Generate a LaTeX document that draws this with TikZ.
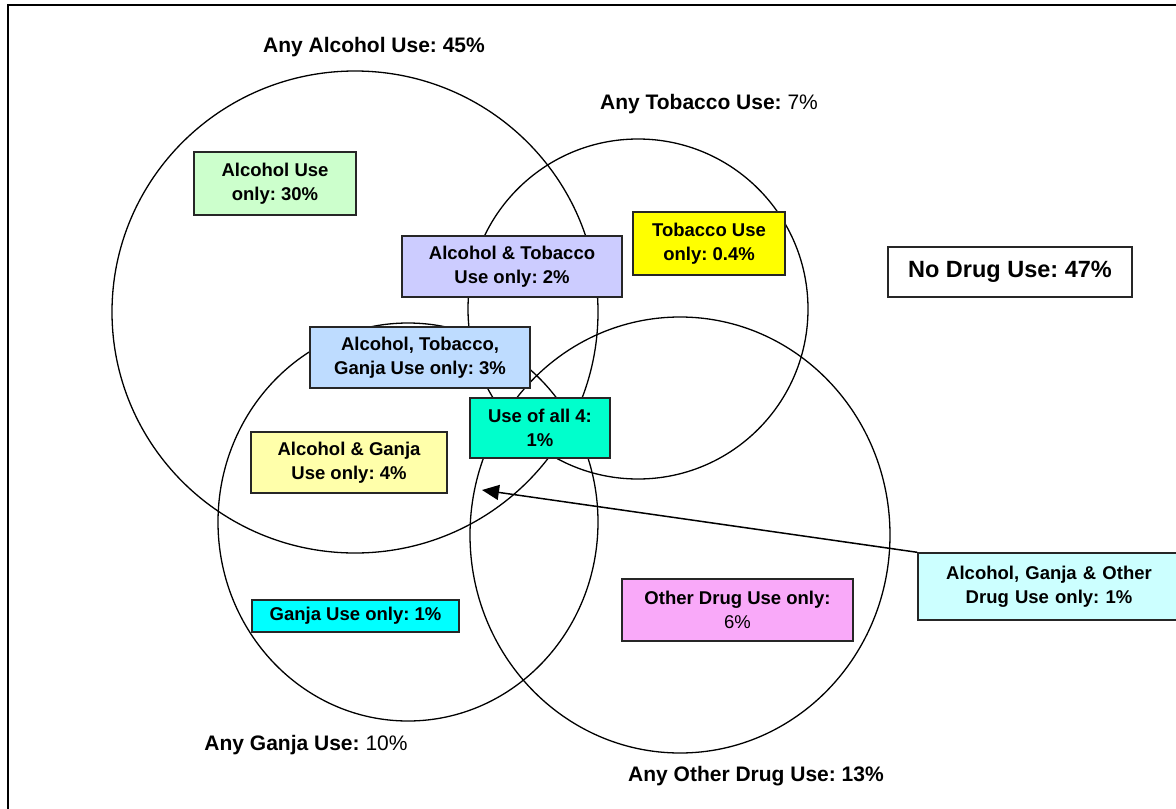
\documentclass[tikz,border=0pt]{standalone}
\usepackage{fontspec}
\setmainfont{Liberation Sans}
\usetikzlibrary{arrows.meta}
\frenchspacing
\newcommand{\boxfont}{\bfseries\fontsize{18.5}{24}\selectfont}
\newcommand{\headfont}{\bfseries\fontsize{21}{25}\selectfont}
\begin{document}
\frenchspacing
\begin{tikzpicture}[x=1pt,y=-1pt,
  region/.style={draw=black, line width=1.3pt},
  lbox/.style={draw=black!85, line width=1.4pt, align=center, inner sep=0pt, font=\boxfont},
  head/.style={inner sep=0pt, font=\headfont, anchor=center},
  pointer/.style={draw=black, line width=1.5pt, -{Triangle[length=17pt,width=15pt]}}]
\useasboundingbox (0,0) rectangle (1176,809);
\clip (0,0) rectangle (1176,809);
% frame
\draw[line width=2pt] (8,900) -- (8,5) -- (1300,5);
% sets
\draw[region] (355,312) ellipse [x radius=243, y radius=241];
\draw[region] (638,309) ellipse [x radius=170, y radius=170];
\draw[region] (408,522) ellipse [x radius=190, y radius=199];
\draw[region] (680,535) ellipse [x radius=210, y radius=218];
% headings
\node[head] (hA) at (374,47) {Any Alcohol Use: 45\%};
\node[head] (hT) at (709,104) {Any Tobacco Use: \mdseries 7\%};
\node[head] (hG) at (306,745) {Any Ganja Use: \mdseries 10\%};
\node[head] (hO) at (756,776) {Any Other Drug Use: 13\%};
% boxes
\node[lbox, fill={rgb,255:red,204;green,255;blue,204}, minimum width=162pt, minimum height=63pt] (b1) at (275,183.5) {Alcohol Use\\only: 30\%};
\node[lbox, fill={rgb,255:red,204;green,204;blue,255}, minimum width=220pt, minimum height=61pt] (b2) at (512,266.5) {Alcohol \& Tobacco\\Use only: 2\%};
\node[lbox, fill={rgb,255:red,255;green,255;blue,0}, minimum width=152pt, minimum height=63pt] (b3) at (709,243.5) {Tobacco Use\\only: 0.4\%};
\node[lbox, fill=white, minimum width=244pt, minimum height=50pt, font=\bfseries\fontsize{23.5}{27}\selectfont] (b4) at (1010,272) {No Drug Use: 47\%};
\node[lbox, fill={rgb,255:red,190;green,220;blue,255}, minimum width=220pt, minimum height=61pt] (b5) at (420,357.5) {Alcohol, Tobacco,\\Ganja Use only: 3\%};
\node[lbox, fill={rgb,255:red,0;green,255;blue,204}, minimum width=140pt, minimum height=60pt] (b6) at (540,428) {Use of all 4:\\1\%};
\node[lbox, fill={rgb,255:red,255;green,255;blue,170}, minimum width=196pt, minimum height=61pt] (b7) at (349,462.5) {Alcohol \& Ganja\\Use only: 4\%};
\node[lbox, fill={rgb,255:red,0;green,255;blue,255}, minimum width=207pt, minimum height=32pt] (b8) at (355.5,616) {Ganja Use only: 1\%};
\node[lbox, fill={rgb,255:red,249;green,169;blue,249}, minimum width=231pt, minimum height=62pt] (b9) at (737.5,610) {Other Drug Use only:\\\mdseries 6\%};
\node[lbox, fill={rgb,255:red,204;green,255;blue,255}, minimum width=262pt, minimum height=67pt, text width=258pt] (b10) at (1049,586.5) {Alcohol, Ganja \& Other\\Drug Use only: 1\%};
% pointer
\coordinate (tip) at (482,490);
\draw[pointer] (b10.north west) -- (tip);
\end{tikzpicture}
\end{document}
